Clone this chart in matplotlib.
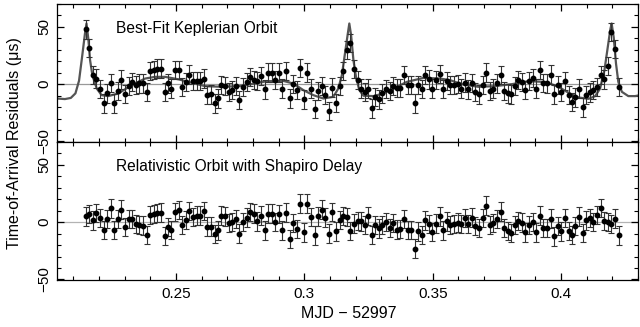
import matplotlib
matplotlib.use("Agg")
import matplotlib.pyplot as plt
from matplotlib.ticker import MultipleLocator

plt.rcParams['font.family'] = ['Liberation Sans', 'DejaVu Sans']

# TOA times (MJD - 52997)
times = [
    0.2148, 0.2162, 0.2176, 0.2190, 0.2204, 0.2218, 0.2232, 0.2246, 0.2259, 0.2273,
    0.2287, 0.2301, 0.2315, 0.2329, 0.2343, 0.2357, 0.2371, 0.2385, 0.2399, 0.2413,
    0.2427, 0.2441, 0.2455, 0.2468, 0.2482, 0.2496, 0.2510, 0.2524, 0.2538, 0.2552,
    0.2566, 0.2580, 0.2594, 0.2608, 0.2622, 0.2636, 0.2650, 0.2663, 0.2677, 0.2691,
    0.2705, 0.2719, 0.2733, 0.2747, 0.2761, 0.2775, 0.2789, 0.2803, 0.2817, 0.2831,
    0.2845, 0.2858, 0.2872, 0.2886, 0.2900, 0.2914, 0.2928, 0.2942, 0.2956, 0.2970,
    0.2984, 0.2998, 0.3012, 0.3026, 0.3040, 0.3053, 0.3067, 0.3081, 0.3095, 0.3109,
    0.3123, 0.3137, 0.3151, 0.3165, 0.3179, 0.3193, 0.3207, 0.3221, 0.3235, 0.3248,
    0.3262, 0.3276, 0.3290, 0.3304, 0.3318, 0.3332, 0.3346, 0.3360, 0.3374, 0.3388,
    0.3402, 0.3416, 0.3430, 0.3444, 0.3457, 0.3471, 0.3485, 0.3499, 0.3513, 0.3527,
    0.3541, 0.3555, 0.3569, 0.3583, 0.3597, 0.3611, 0.3625, 0.3639, 0.3652, 0.3666,
    0.3680, 0.3694, 0.3708, 0.3722, 0.3736, 0.3750, 0.3764, 0.3778, 0.3792, 0.3806,
    0.3820, 0.3834, 0.3847, 0.3861, 0.3875, 0.3889, 0.3903, 0.3917, 0.3931, 0.3945,
    0.3959, 0.3973, 0.3987, 0.4001, 0.4015, 0.4029, 0.4043, 0.4056, 0.4070, 0.4084,
    0.4098, 0.4112, 0.4126, 0.4140, 0.4154, 0.4168, 0.4182, 0.4196, 0.4210, 0.4224,
]

# residuals after best-fit Keplerian orbit (us)
kepler_res = [
    47.8, 31.6, 7.8, 4.9, -4.3, -16.8, -8.1, 1.2, -16.8, -6.1,
    4.0, -8.7, -1.7, 2.0, -0.9, 0.6, 0.6, -6.7, 11.3, 12.2,
    13.6, 13.6, -6.7, 0.6, -3.8, 12.2, 12.2, -2.3, 2.0, 8.4,
    2.9, 2.6, 2.6, 4.9, -9.6, -9.0, -16.8, -12.5, -0.9, -1.4,
    -6.7, -5.2, -1.4, -13.9, -2.3, 2.0, 6.4, 3.5,
    2.6, 7.2, -4.6, 10.1, 10.1, 3.5, 10.1, -3.8, 11.3, -12.5,
    0.0, -5.2, 14.2, -13.3, 10.1, -3.8, -21.4, -6.1, -1.7, -9.6,
    -23.2, -2.9, -16.2, -1.7, 11.3, 30.1, 36.2, 13.0, 3.5, -3.8,
    -6.7, -3.8, -21.2, -11.0, -13.3, -8.1, -4.3, -6.1, -1.7, -3.2,
    -3.2, 7.8, -0.9, -0.9, -16.8, -0.9, -4.3, 7.8, 4.1, -3.8,
    3.5, 8.7, -4.3, 2.6,
    -0.9, -0.9, 0.0, -3.8, 1.4, -4.6, 1.2, -6.7, -9.0, -0.9,
    10.1, -6.1, -3.8, 0.6, 7.8, -5.8, -8.1, -9.0, -1.4, 3.5,
    2.0, -5.2, 2.6, 5.5, -3.8, 12.2, 1.2, 0.6, 8.4, -9.0,
    -0.9, -6.7, 2.9, -9.6, -15.4, -11.6, -3.8, -20.3, -9.6, -7.2,
    -5.2, -2.3, 7.8, 4.1, 16.0, 45.5, 31.0, -2.3,
]

# residuals after relativistic orbit with Shapiro delay (us)
shapiro_res = [
    5.0, 7.0, 1.5, 8.0, 3.5, -7.0, 3.0, 12.0, -7.0, 2.6,
    11.0, -4.0, 3.0, 3.0, -1.5, -2.3, -3.0, -11.0, 6.4, 7.2,
    8.0, 8.4, -12.0, -4.3, -6.7, 9.0, 10.4, -2.6, 2.0, 9.6,
    4.6, 5.8, 5.8, 10.0, -3.8, -3.8, -10.4, -7.2, 5.8, 5.0,
    -0.6, 0.0, 3.0, -10.0, 0.0, 4.0, 9.0, 7.5,
    0.6, 5.8, -7.2, 7.5, 7.5, 0.3, 7.0, -7.2, 8.4, -14.8,
    -0.9, -6.0, 16.2, -9.0, 16.2, 4.3, -11.6, 5.0, 11.0, 4.0,
    -10.0, 8.7, -8.0, 1.7, 5.5, 4.6, -7.8, -1.2, 1.2, 0.6,
    -2.6, 5.5, -11.0, -2.3, -5.5, -2.6, 0.0, -5.2, -0.9, -6.4,
    -5.8, 2.9, -6.7, -7.0, -23.0, -8.0, -11.0, 1.5, -1.5, -8.4,
    -1.2, 5.0, -7.2, 0.6,
    -2.3, -1.5, -0.3, -1.7, 3.5, -1.7, 4.0, -3.2, -5.2, 3.5,
    14.5, -2.6, -0.9, 2.6, 9.3, -5.2, -7.5, -9.6, -2.3, 1.2,
    -0.3, -9.0, -2.3, 0.0, -9.0, 5.8, -5.2, -5.2, 3.2, -12.5,
    -3.2, -8.0, 3.5, -7.5, -11.0, -3.2, 4.9, -9.6, 1.5, 3.5,
    0.0, 6.4, 12.2, 0.9, 0.0, -1.7, 3.2, -11.6,
]

toa_err = 8.0

# Shapiro delay signature left in the Keplerian fit
model_t = [
    0.2036, 0.2067, 0.2090, 0.2108, 0.2122, 0.2134, 0.2145, 0.2151, 0.2158, 0.2165,
    0.2174, 0.2191, 0.2210, 0.2236, 0.2275, 0.2327, 0.2379, 0.2418, 0.2457, 0.2509,
    0.2561, 0.2613, 0.2678, 0.2741, 0.2808, 0.2853, 0.2917, 0.2957, 0.2996, 0.3035,
    0.3074, 0.3113, 0.3132, 0.3146, 0.3158, 0.3169, 0.3175, 0.3182, 0.3191, 0.3201,
    0.3214, 0.3230, 0.3269, 0.3308, 0.3347, 0.3399, 0.3464, 0.3529, 0.3568, 0.3613,
    0.3678, 0.3743, 0.3808, 0.3873, 0.3938, 0.3990, 0.4029, 0.4068, 0.4107, 0.4133,
    0.4152, 0.4169, 0.4182, 0.4192, 0.4197, 0.4205, 0.4214, 0.4223, 0.4237, 0.4262,
    0.4288, 0.4308,
]
model_res = [
    -12.5, -13.0, -12.0, -8.0, 3.0, 24.0, 44.0, 53.0, 40.0, 21.0,
    7.8, -3.8, -9.6, -10.4, -8.1, -0.9, 4.9, 6.4, 6.4, 4.3,
    1.2, -1.7, -2.3, -1.7, 0.6, 2.6, 2.9, 0.6, -5.2, -9.6,
    -12.5, -11.0, -3.8, 7.8, 26.7, 44.0, 53.0, 42.6, 21.0, 6.4,
    -5.2, -10.1, -10.4, -8.1, -3.8, 2.0, 5.5, 4.9, 3.5, 0.0,
    -2.3, -1.7, 0.0, 2.6, 2.0, -2.3, -7.5, -11.6, -12.8, -10.4,
    -3.8, 12.2, 32.5, 48.0, 53.0, 41.0, 18.0, 2.0, -6.7, -10.4,
    -10.4, -9.6,
]

fig = plt.figure(figsize=(6.4, 3.27), dpi=100)
ax1 = fig.add_axes([0.089, 0.5657, 0.908, 0.422])
ax2 = fig.add_axes([0.089, 0.1437, 0.908, 0.422], sharex=ax1)

ax1.axhline(0, color='0.6', lw=0.9, zorder=1)
ax1.plot(model_t, model_res, color='#555555', lw=1.6, zorder=2)
ax1.errorbar(times, kepler_res, yerr=toa_err, fmt='o', color='black', ms=3.2,
             ecolor='#333333', elinewidth=0.8, capsize=2.5, capthick=0.8, zorder=3)
ax1.text(0.1015, 0.826, 'Best-Fit Keplerian Orbit', transform=ax1.transAxes,
         fontsize=11.2, va='center', ha='left')

ax2.axhline(0, color='0.7', lw=0.9, zorder=1)
ax2.errorbar(times, shapiro_res, yerr=toa_err, fmt='o', color='black', ms=3.2,
             ecolor='#333333', elinewidth=0.8, capsize=2.5, capthick=0.8, zorder=3)
ax2.text(0.1015, 0.819, 'Relativistic Orbit with Shapiro Delay', transform=ax2.transAxes,
         fontsize=11.2, va='center', ha='left')

for ax in (ax1, ax2):
    ax.set_xlim(0.2036, 0.4300)
    ax.set_ylim(-50.5, 70)
    ax.xaxis.set_major_locator(MultipleLocator(0.05))
    ax.xaxis.set_minor_locator(MultipleLocator(0.01))
    ax.yaxis.set_major_locator(MultipleLocator(50))
    ax.yaxis.set_minor_locator(MultipleLocator(10))
    ax.tick_params(which='both', direction='in', top=True, right=True, labelsize=11)
    ax.tick_params(which='major', length=5, width=0.9)
    ax.tick_params(which='minor', length=2.6, width=0.8)
    ax.tick_params(axis='y', pad=4)
    for lab in ax.get_yticklabels():
        lab.set_rotation(90)
        lab.set_va('center')
    for sp in ax.spines.values():
        sp.set_linewidth(0.9)

ax1.tick_params(axis='x', labelbottom=False)
ax2.tick_params(axis='x', pad=5)
ax2.set_xticks([0.25, 0.30, 0.35, 0.40])
ax2.set_xticklabels(['0.25', '0.3', '0.35', '0.4'])

fig.text(0.022, 0.564, 'Time-of-Arrival Residuals (\u03bcs)', rotation=90,
         ha='center', va='center', fontsize=11.5)
fig.text(0.545, 0.04, 'MJD \u2212 52997', ha='center', va='center', fontsize=11.5)

fig.savefig('out.png', dpi=100)
